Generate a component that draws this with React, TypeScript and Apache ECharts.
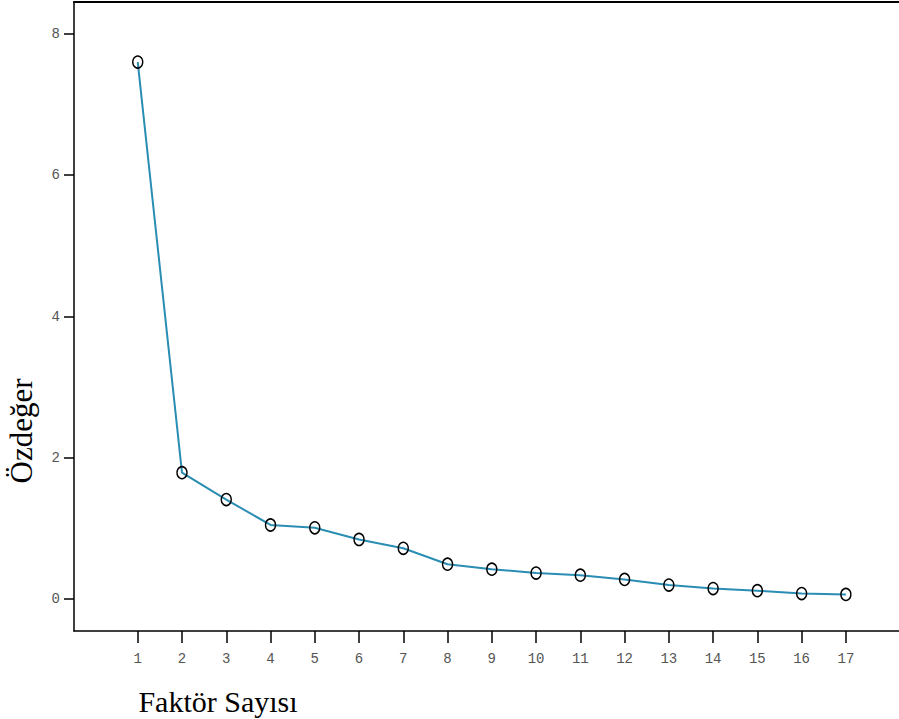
import React, { useEffect, useRef } from "react";
import * as echarts from "echarts";

const factors = [1, 2, 3, 4, 5, 6, 7, 8, 9, 10, 11, 12, 13, 14, 15, 16, 17];
const eigenvalues = [7.6, 1.79, 1.41, 1.05, 1.01, 0.845, 0.72, 0.495, 0.425, 0.37, 0.34, 0.28, 0.2, 0.15, 0.12, 0.08, 0.067];
const yTicks = [0, 2, 4, 6, 8];
const xTitle = "Faktör Sayısı";
const yTitle = "Özdeğer";

export default function App() {
  const ref = useRef<HTMLDivElement>(null);
  useEffect(() => {
    if (!ref.current) return;
    const chart = echarts.init(ref.current, null, { renderer: "svg" });
    const labelStyle = {
      color: "#555",
      fontFamily: "Liberation Mono, monospace",
      fontSize: 14,
    };
    chart.setOption({
      animation: false,
      backgroundColor: "#fff",
      grid: { left: 74, right: 0, top: 2, bottom: 88, containLabel: false },
      xAxis: [
        {
          type: "value",
          min: -0.44,
          max: 18.2,
          splitLine: { show: false },
          axisLine: { show: true, onZero: false, lineStyle: { color: "#000", width: 1.5 } },
          axisTick: { show: true, length: 12, lineStyle: { color: "#000", width: 1.5 }, customValues: factors },
          axisLabel: { ...labelStyle, margin: 21, customValues: factors },
        },
        {
          type: "value",
          position: "top",
          min: -0.44,
          max: 18.2,
          splitLine: { show: false },
          axisLine: { show: true, onZero: false, lineStyle: { color: "#000", width: 2 } },
          axisTick: { show: false },
          axisLabel: { show: false },
        },
      ],
      yAxis: {
        type: "value",
        min: -0.45,
        max: 8.45,
        splitLine: { show: false },
        axisLine: { show: true, onZero: false, lineStyle: { color: "#000", width: 1.5 } },
        axisTick: { show: true, length: 10, lineStyle: { color: "#000", width: 1.5 }, customValues: yTicks },
        axisLabel: { ...labelStyle, margin: 14, customValues: yTicks },
      },
      graphic: [
        {
          type: "text",
          x: 21,
          y: 431,
          rotation: Math.PI / 2,
          style: {
            text: yTitle,
            fill: "#000",
            font: "31px 'Liberation Serif', 'Times New Roman', serif",
            textAlign: "center",
            textVerticalAlign: "middle",
          },
        },
        {
          type: "text",
          x: 218,
          y: 701,
          style: {
            text: xTitle,
            fill: "#000",
            font: "30px 'Liberation Serif', 'Times New Roman', serif",
            textAlign: "center",
            textVerticalAlign: "middle",
          },
        },
      ],
      series: [
        {
          type: "line",
          data: factors.map((f, i) => [f, eigenvalues[i]]),
          lineStyle: { color: "#2a8db3", width: 2 },
          symbol: "circle",
          symbolSize: [10, 12],
          itemStyle: { color: "rgba(0,0,0,0)", borderColor: "#000", borderWidth: 1.5 },
          z: 3,
        },
      ],
    });
    return () => chart.dispose();
  }, []);
  return (
    <div
      ref={ref}
      style={{ position: "absolute", left: 0, top: 0, width: 899, height: 719 }}
    />
  );
}
